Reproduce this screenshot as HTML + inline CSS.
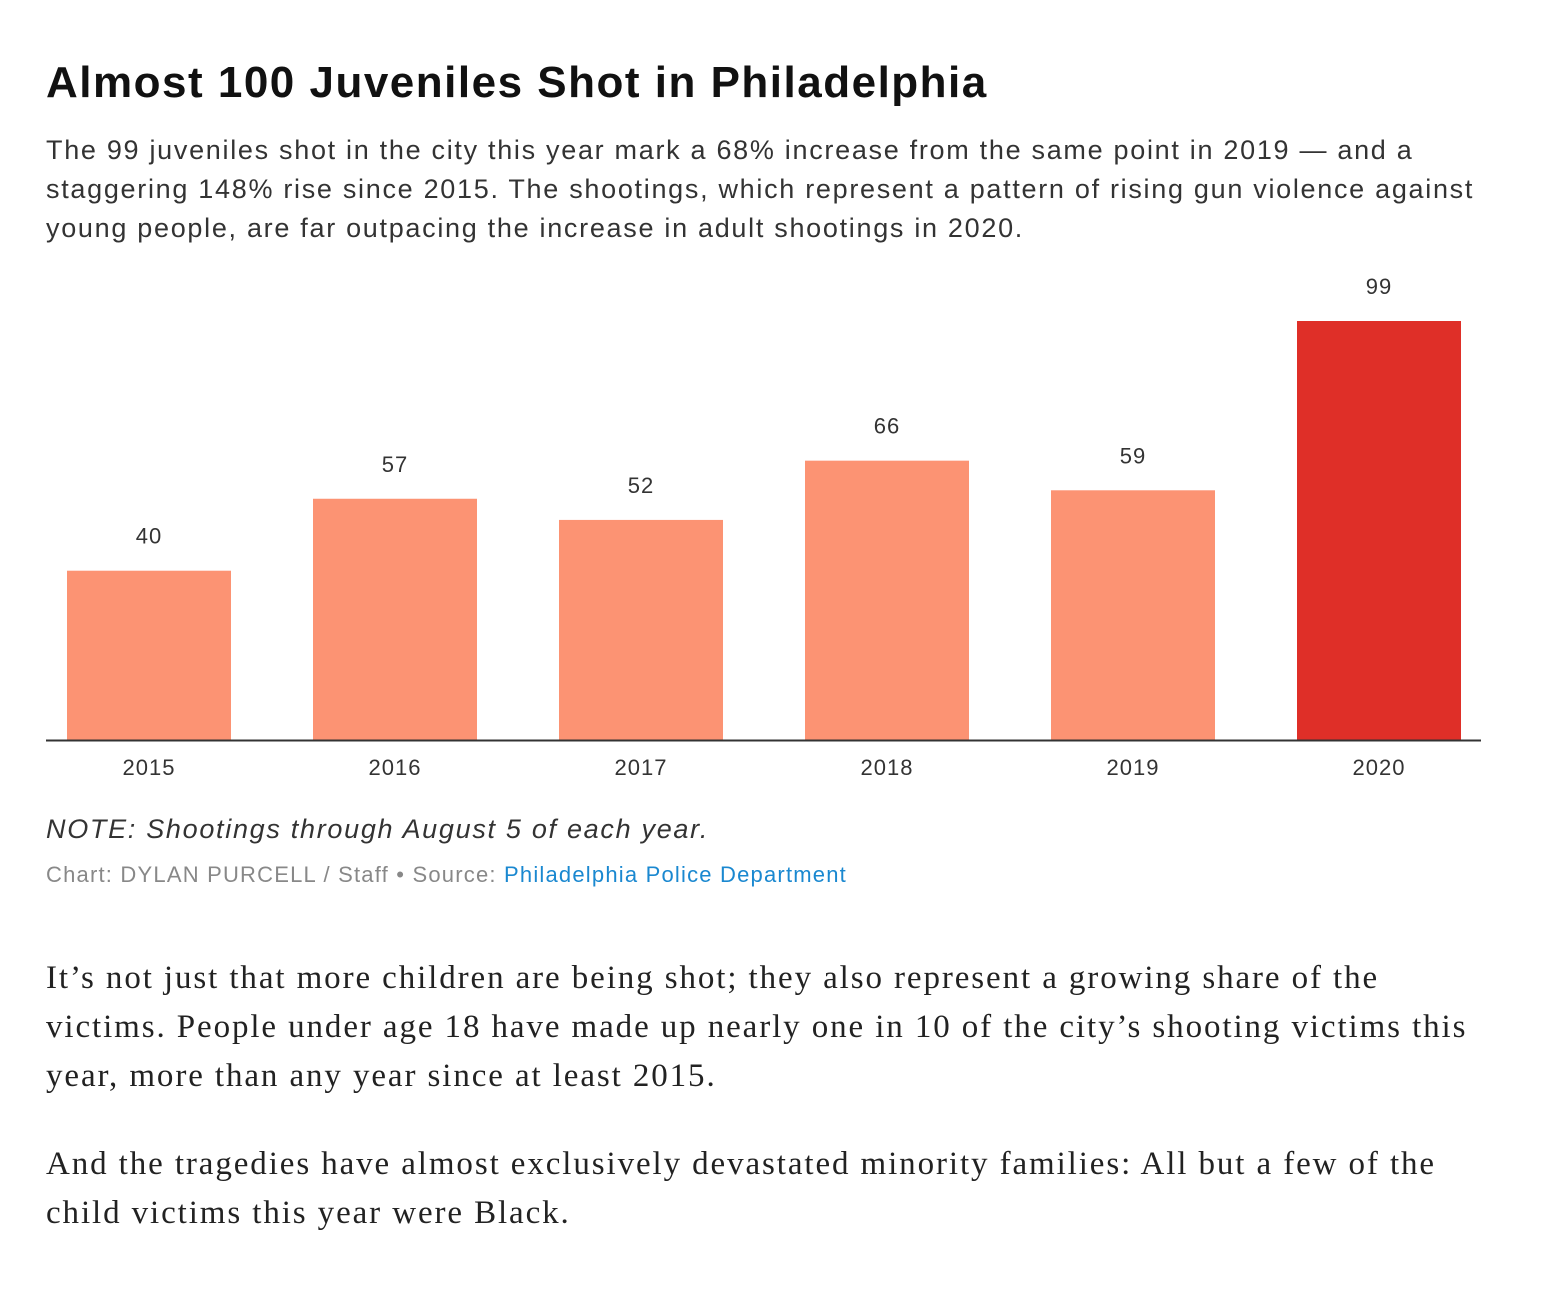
<!DOCTYPE html>
<html><head><meta charset="utf-8">
<style>
body{margin:0;width:1544px;height:1300px;background:#fff;position:relative;overflow:hidden;font-family:"Liberation Sans",sans-serif;color:#222}
.t{position:absolute;left:46px;white-space:nowrap}
#title{top:58px;font-size:44px;font-weight:bold;color:#111;letter-spacing:1.5px}
#sub{top:131px;font-size:27px;line-height:39px;color:#333;letter-spacing:1.7px}
#note{top:814px;font-size:27px;font-style:italic;color:#333;letter-spacing:1.7px}
#credit{top:862px;font-size:22px;color:#888;letter-spacing:1.2px}
#credit span{color:#1a88d0}
.body{font-family:"Liberation Serif",serif;font-size:33px;line-height:49px;color:#222;letter-spacing:1.9px}
#p1{top:954px}#p2{top:1140px}
</style></head><body>
<div class="t" id="title">Almost 100 Juveniles Shot in Philadelphia</div>
<div class="t" id="sub">The 99 juveniles shot in the city this year mark a 68% increase from the same point in 2019 — and a<br>staggering 148% rise since 2015. The shootings, which represent a pattern of rising gun violence against<br>young people, are far outpacing the increase in adult shootings in 2020.</div>
<svg id="chart" width="1544" height="800" style="position:absolute;left:0;top:0"></svg>
<div class="t" id="note">NOTE: Shootings through August 5 of each year.</div>
<div class="t" id="credit">Chart: DYLAN PURCELL / Staff • Source: <span>Philadelphia Police Department</span></div>
<div class="t body" id="p1">It’s not just that more children are being shot; they also represent a growing share of the<br>victims. People under age 18 have made up nearly one in 10 of the city’s shooting victims this<br>year, more than any year since at least 2015.</div>
<div class="t body" id="p2">And the tragedies have almost exclusively devastated minority families: All but a few of the<br>child victims this year were Black.</div>
<script>
const years=["2015","2016","2017","2018","2019","2020"];
const values=[40,57,52,66,59,99];
const highlight=["2020"];
const svg=document.getElementById('chart');
const NS="http://www.w3.org/2000/svg";
const base=740,scale=419/99,x0=67,step=246,bw=164;
const y=v=>base-v*scale;
const xb=i=>x0+i*step;
function mk(tag,attrs){const e=document.createElementNS(NS,tag);for(const k in attrs)e.setAttribute(k,attrs[k]);svg.appendChild(e);return e;}
years.forEach((yr,i)=>{
  const r=mk('rect',{x:xb(i),y:y(values[i]),width:bw,height:values[i]*scale,fill:highlight.includes(yr)?'#df2f28':'#fc9373'});
  
  
  const v=mk('text',{x:xb(i)+bw/2,y:y(values[i])-27,'text-anchor':'middle','font-size':22,fill:'#333','letter-spacing':1});
  v.textContent=values[i];
  
  
  const t=mk('text',{x:xb(i)+bw/2,y:775,'text-anchor':'middle','font-size':22,fill:'#333','letter-spacing':1});
  t.textContent=yr;
  
  
});
const ax=mk('line',{x1:46,x2:1481,y1:base+0.5,y2:base+0.5,stroke:'#333','stroke-width':2});


</script>
</body></html>
